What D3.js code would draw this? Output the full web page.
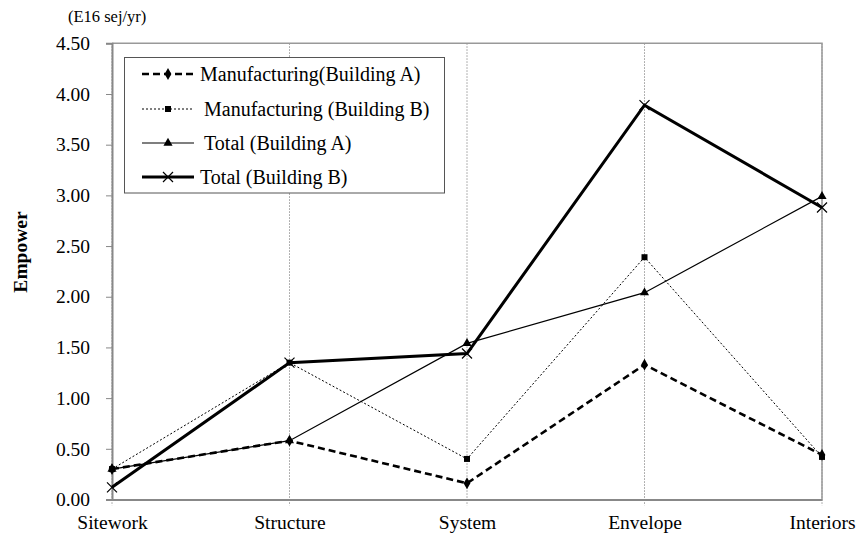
<!DOCTYPE html>
<html><head><meta charset="utf-8">
<script src="https://cdn.jsdelivr.net/npm/d3@7"></script>
<style>
html,body{margin:0;padding:0;background:#fff;}
svg{display:block;}
</style></head>
<body>
<svg id="chart" width="858" height="533"></svg>
<script>
const categories = ["Sitework","Structure","System","Envelope","Interiors"];
const manufacturingA = [0.30, 0.58, 0.16, 1.33, 0.44];
const manufacturingB = [0.30, 1.35, 0.40, 2.39, 0.42];
const totalA = [0.30, 0.58, 1.54, 2.04, 2.99];
const totalB = [0.12, 1.35, 1.44, 3.89, 2.88];
const seriesNames = ["Manufacturing(Building A)","Manufacturing (Building B)","Total (Building A)","Total (Building B)"];
const yTicks = [0,0.5,1,1.5,2,2.5,3,3.5,4,4.5];
const unitLabel = "(E16 sej/yr)";
const yTitle = "Empower";

const FONT = '"Liberation Serif", "Times New Roman", serif';
const svg = d3.select("#chart");
const x = d3.scalePoint().domain(categories).range([112, 822]);
const y = d3.scaleLinear().domain([0, 4.5]).range([499.5, 43.3]);

const styles = [
  {data: manufacturingA, width: 2.6, dash: "7,4", marker: "diamond"},
  {data: manufacturingB, width: 1, dash: "2,2", marker: "square"},
  {data: totalA, width: 1.2, dash: null, marker: "triangle"},
  {data: totalB, width: 3, dash: null, marker: "cross"}
];

// vertical dotted gridlines
svg.append("g").selectAll("line").data(categories).join("line")
  .attr("x1", d => x(d)).attr("x2", d => x(d))
  .attr("y1", y(4.5)).attr("y2", y(0) + 6)
  .attr("stroke", "#999").attr("stroke-width", 1).attr("stroke-dasharray", "1.5,1.5");

// plot border top & right
svg.append("path")
  .attr("d", `M${x(categories[0])},${y(4.5)}H${x(categories[4])}V${y(0)}`)
  .attr("fill", "none").attr("stroke", "#999").attr("stroke-width", 1.5);

// y axis
const yAxis = svg.append("g").attr("transform", `translate(${x(categories[0])},0)`)
  .call(d3.axisLeft(y).tickValues(yTicks).tickFormat(d3.format(".2f")).tickSize(6).tickPadding(16));
yAxis.attr("font-family", null);
yAxis.select(".domain").attr("stroke", "#888").attr("stroke-width", 2);
yAxis.selectAll(".tick line").attr("stroke", "#888").attr("stroke-width", 1);
yAxis.selectAll(".tick text").style("font-family", FONT).style("font-size", "19.5px").attr("fill", "#000");

// x axis
const xAxis = svg.append("g").attr("transform", `translate(0,${y(0)})`)
  .call(d3.axisBottom(x).tickSize(0).tickPadding(0));
xAxis.attr("font-family", null);
xAxis.select(".domain").attr("stroke", "#888").attr("stroke-width", 2);
xAxis.selectAll(".tick text").attr("y", 29).attr("dy", 0)
  .style("font-family", FONT).style("font-size", "19.5px").attr("fill", "#000");

// series
const line = d3.line().x((d, i) => x(categories[i])).y(d => y(d));
function drawMarker(g, type, cx, cy) {
  if (type === "diamond") {
    g.append("path").attr("d", d3.symbol(d3.symbolDiamond, 40)()).attr("transform", `translate(${cx},${cy})`).attr("fill", "#000");
  } else if (type === "square") {
    g.append("path").attr("d", d3.symbol(d3.symbolSquare, 36)()).attr("transform", `translate(${cx},${cy})`).attr("fill", "#000");
  } else if (type === "triangle") {
    g.append("path").attr("d", d3.symbol(d3.symbolTriangle, 36)()).attr("transform", `translate(${cx},${cy})`).attr("fill", "#000");
  } else if (type === "cross") {
    const r = 5;
    g.append("path").attr("d", `M${cx-r},${cy-r}L${cx+r},${cy+r}M${cx-r},${cy+r}L${cx+r},${cy-r}`)
      .attr("stroke", "#000").attr("stroke-width", 1.2).attr("fill", "none");
  }
}
const plot = svg.append("g");
styles.forEach(s => {
  plot.append("path").datum(s.data).attr("d", line)
    .attr("fill", "none").attr("stroke", "#000").attr("stroke-width", s.width)
    .attr("stroke-dasharray", s.dash);
});
styles.forEach(s => {
  const g = plot.append("g");
  s.data.forEach((v, i) => drawMarker(g, s.marker, x(categories[i]), y(v)));
});

// legend
const lg = svg.append("g");
lg.append("rect").attr("x", 124.5).attr("y", 57.5).attr("width", 320).attr("height", 135.5)
  .attr("fill", "#fff").attr("stroke", "#555").attr("stroke-width", 1);
const rowsY = [74, 109, 143, 177];
const textX = [200, 204, 204, 200];
seriesNames.forEach((name, i) => {
  const s = styles[i];
  const yy = rowsY[i];
  lg.append("line").attr("x1", 142).attr("x2", 194).attr("y1", yy).attr("y2", yy)
    .attr("stroke", "#000").attr("stroke-width", s.width).attr("stroke-dasharray", s.dash);
  drawMarker(lg, s.marker, 168, yy);
  lg.append("text").attr("x", textX[i]).attr("y", yy).attr("dy", "0.35em")
    .style("font-family", FONT).style("font-size", "20px")
    .attr("fill", "#000").text(name);
});

// unit label
svg.append("text").attr("x", 68).attr("y", 22)
  .style("font-family", FONT).style("font-size", "16.5px").attr("fill", "#000").text(unitLabel);

// y title
svg.append("text").attr("transform", `translate(20,252) rotate(-90)`)
  .attr("text-anchor", "middle").attr("dy", "0.35em")
  .style("font-family", FONT).style("font-size", "19.5px").style("font-weight", "bold")
  .attr("fill", "#000").text(yTitle);
</script>
</body></html>
